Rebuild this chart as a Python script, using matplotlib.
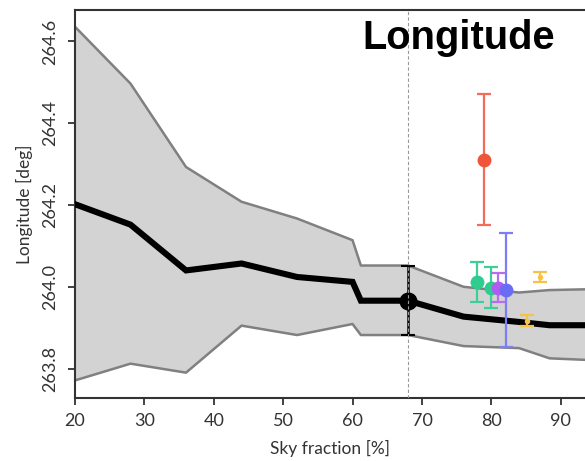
import matplotlib
matplotlib.use("Agg")
import matplotlib.pyplot as plt

# Sky-fraction scan: median longitude and its spread
sky_frac = [20, 28, 36, 44, 52, 60, 61.2, 68, 76, 84, 88.4, 94]
lon_mid = [264.202, 264.152, 264.040, 264.057, 264.024, 264.012, 263.966, 263.966, 263.927, 263.914, 263.906, 263.906]
lon_hi = [264.636, 264.497, 264.293, 264.208, 264.167, 264.114, 264.052, 264.052, 264.000, 263.986, 263.992, 263.994]
lon_lo = [263.771, 263.812, 263.790, 263.905, 263.882, 263.909, 263.882, 263.882, 263.855, 263.850, 263.825, 263.821]

# Reference point on the scan
ref_x = 68
ref_y = 263.966
ref_err = 0.085

# Individual measurements
pts_x = [79.0, 78.0, 79.9, 81.0, 82.1, 87.0, 85.1]
pts_y = [264.311, 264.012, 263.998, 263.998, 263.992, 264.023, 263.917]
pts_err = [0.160, 0.049, 0.051, 0.036, 0.139, 0.012, 0.013]
pts_marker_col = ["#f0553a", "#2ecc8f", "#2ecc8f", "#b05cf0", "#6b6cf5", "#f5c34a", "#f5c34a"]
pts_bar_col = ["#f26b5b", "#3ccf98", "#3ccf98", "#b86df0", "#7d7ef5", "#f5c34a", "#f5c34a"]
pts_size = [10, 10, 10, 10, 10, 4, 4]

xticks = [20, 30, 40, 50, 60, 70, 80, 90]
yticks = [263.8, 264.0, 264.2, 264.4, 264.6]

plt.rcParams["font.family"] = ["Lato", "DejaVu Sans"]

fig = plt.figure(figsize=(5.85, 4.61), dpi=100)
W, H = 585, 461
ax = fig.add_axes([75 / W, 1 - 398 / H, 510 / W, 388 / H])

ax.fill_between(sky_frac, lon_lo, lon_hi, color="#d3d3d3", lw=0, zorder=1)
ax.plot(sky_frac, lon_hi, color="#808080", lw=1.8, zorder=2)
ax.plot(sky_frac, lon_lo, color="#808080", lw=1.8, zorder=2)
ax.plot(sky_frac, lon_mid, color="black", lw=4.4, solid_joinstyle="miter", zorder=3)

ax.errorbar([ref_x], [ref_y], yerr=[ref_err], fmt="o", color="black", ms=12,
            elinewidth=1.8, capsize=5, capthick=1.5, zorder=4)
ax.axvline(ref_x, color="#999999", lw=0.8, ls=(0, (3, 2)), zorder=5)

for x, y, e, mc, bc, s in zip(pts_x, pts_y, pts_err, pts_marker_col, pts_bar_col, pts_size):
    ax.errorbar([x], [y], yerr=[e], fmt="none", ecolor=bc, elinewidth=1.6,
                capsize=5, capthick=1.6, zorder=6)
    ax.plot([x], [y], "o", color=mc, ms=s, mec="none", zorder=7)

ax.set_xlim(20, 93.5)
ax.set_ylim(263.728, 264.677)
ax.set_xticks(xticks)
ax.set_yticks(yticks)
ax.set_xticklabels([str(t) for t in xticks])
ax.set_yticklabels([f"{t:.1f}" for t in yticks], rotation=90, va="center")

for side in ["left", "bottom", "top"]:
    ax.spines[side].set_color("#333333")
    ax.spines[side].set_linewidth(1.5)
ax.spines["right"].set_visible(False)
ax.tick_params(axis="both", direction="out", length=5, width=1.3, color="#333333",
               labelsize=13, labelcolor="#333333", top=False, right=False)
ax.tick_params(axis="x", pad=6)
ax.tick_params(axis="y", pad=7)

ax.set_xlabel("Sky fraction [%]", fontsize=12.5, color="#333333", labelpad=8)
ax.set_ylabel("Longitude [deg]", fontsize=12.5, color="#333333", labelpad=7)

fig.text(555 / W, 1 - 38 / H, "Longitude", ha="right", va="center",
         fontsize=28.7, fontweight="bold", family=["Liberation Sans", "DejaVu Sans"])

fig.savefig("out.png", dpi=100)
